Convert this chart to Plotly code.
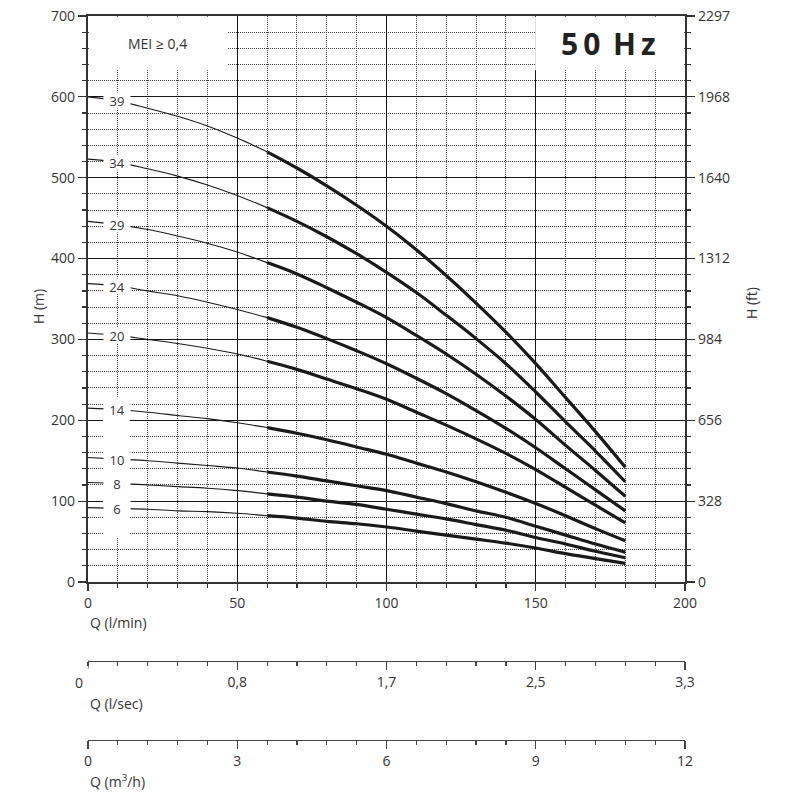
import plotly.graph_objects as go

# ---------------- data ----------------
Q_LMIN = [0, 10, 20, 30, 40, 50, 60, 70, 80, 90, 100, 110, 120, 130, 140, 150, 160, 170, 180]

H_39 = [600, 595, 586, 576, 564, 549, 532, 512, 490, 466, 440, 411, 379, 345, 309, 270, 228, 186, 142]
H_34 = [523, 519, 511, 502, 491, 478, 463, 446, 427, 406, 383, 358, 330, 301, 270, 235, 198, 162, 124]
H_29 = [446, 442, 436, 428, 419, 408, 395, 381, 364, 346, 327, 305, 282, 257, 230, 201, 169, 138, 106]
H_24 = [369, 366, 360, 354, 346, 337, 327, 315, 301, 286, 270, 252, 233, 212, 190, 166, 140, 114, 88]
H_20 = [308, 305, 300, 295, 289, 282, 273, 263, 251, 239, 226, 210, 194, 177, 159, 139, 117, 95, 73]
H_14 = [215, 213, 210, 206, 202, 197, 191, 184, 176, 167, 158, 147, 136, 124, 111, 97, 82, 66, 51]
H_10 = [154, 152, 150, 147, 144, 141, 136, 131, 125, 119, 113, 105, 97, 88, 80, 69, 58, 47, 37]
H_8 = [123, 122, 120, 118, 116, 113, 109, 105, 100, 96, 90, 84, 78, 71, 64, 55, 47, 38, 30]
H_6 = [92, 91, 90, 88, 87, 85, 82, 79, 75, 72, 68, 63, 58, 53, 48, 42, 35, 29, 23]

STAGES = ["39", "34", "29", "24", "20", "14", "10", "8", "6"]
CURVES = [H_39, H_34, H_29, H_24, H_20, H_14, H_10, H_8, H_6]

H_TICKS_M = [0, 100, 200, 300, 400, 500, 600, 700]
H_TICKS_FT = ["0", "328", "656", "984", "1312", "1640", "1968", "2297"]
Q_TICKS_LMIN = [0, 50, 100, 150, 200]
Q_TICKS_LSEC_POS = [50, 100, 150, 200]
Q_TICKS_LSEC = ["0,8", "1,7", "2,5", "3,3"]
Q_TICKS_M3H = ["0", "3", "6", "9", "12"]

THICK_FROM = 60      # l/min where the bold (operating) part starts
LABEL_Q = 10         # l/min where the stage labels sit

# ---------------- geometry (page body margin removed, figure fills 800x800) ----------------
W = H = 800
ML, MR, MT, MB = 88, 115, 16, 20
PH = H - MT - MB          # paper height in px


def py(ref_y):
    """reference-image y pixel -> paper fraction"""
    return (H - MB - ref_y) / PH


def px(ref_x):
    return (ref_x - ML) / (W - ML - MR)


FONT = "Open Sans"
TXT = "#333333"
LINE = "#1a1a1a"
MAJOR_GRID = "#151515"

fig = go.Figure()

i_thick = Q_LMIN.index(THICK_FROM)
for name, h in zip(STAGES, CURVES):
    fig.add_trace(go.Scatter(x=Q_LMIN[:i_thick + 1], y=h[:i_thick + 1], mode="lines",
                             line=dict(color=LINE, width=1.1, shape="spline"),
                             showlegend=False, hoverinfo="skip"))
    fig.add_trace(go.Scatter(x=Q_LMIN[i_thick:], y=h[i_thick:], mode="lines",
                             line=dict(color=LINE, width=3.2, shape="spline"),
                             showlegend=False, hoverinfo="skip"))

# carrier traces so the extra axes exist
fig.add_trace(go.Scatter(x=[0, 200], y=[None, None], xaxis="x2", yaxis="y",
                         showlegend=False, hoverinfo="skip"))
fig.add_trace(go.Scatter(x=[0, 200], y=[None, None], xaxis="x3", yaxis="y",
                         showlegend=False, hoverinfo="skip"))
fig.add_trace(go.Scatter(x=[None, None], y=[0, 700], xaxis="x", yaxis="y2",
                         showlegend=False, hoverinfo="skip"))

tickfont = dict(family=FONT, size=14, color=TXT)
minor_grid = dict(showgrid=True, gridcolor="#3a3a3a", gridwidth=1, griddash="1px,1px")

POS_LSEC = py(660.5)
POS_M3H = py(739.5)

fig.update_layout(
    width=W, height=H,
    margin=dict(l=ML, r=MR, t=MT, b=MB, autoexpand=False),
    paper_bgcolor="white", plot_bgcolor="white",
    font=dict(family=FONT, size=14, color=TXT),
    hovermode=False, dragmode=False,
    xaxis=dict(range=[0, 200], tickvals=Q_TICKS_LMIN, tickfont=tickfont, automargin=False,
               ticklabeloverflow="allow",
               showgrid=True, gridcolor=MAJOR_GRID, gridwidth=1,
               ticks="outside", ticklen=7, tickcolor="#333", tickwidth=1.2,
               minor=dict(dtick=10, tick0=0, ticks="outside", ticklen=4, tickcolor="#333", **minor_grid),
               showline=True, linecolor="#333", linewidth=2, mirror=True,
               zeroline=False, anchor="y", fixedrange=True),
    xaxis2=dict(range=[0, 200], overlaying="x", anchor="free", position=POS_LSEC, automargin=False,
                ticklabeloverflow="allow",
                tickvals=Q_TICKS_LSEC_POS, ticktext=Q_TICKS_LSEC, tickfont=tickfont,
                showgrid=False, ticks="outside", ticklen=8, tickcolor="#444", tickwidth=1.2,
                minor=dict(dtick=10, tick0=0, ticks="outside", ticklen=4, tickcolor="#444", showgrid=False),
                showline=True, linecolor="#444", linewidth=1.5, zeroline=False, side="bottom"),
    xaxis3=dict(range=[0, 200], overlaying="x", anchor="free", position=POS_M3H, automargin=False,
                ticklabeloverflow="allow",
                tickvals=Q_TICKS_LMIN, ticktext=Q_TICKS_M3H, tickfont=tickfont,
                showgrid=False, ticks="outside", ticklen=8, tickcolor="#444", tickwidth=1.2,
                minor=dict(dtick=10, tick0=0, ticks="outside", ticklen=4, tickcolor="#444", showgrid=False),
                showline=True, linecolor="#444", linewidth=1.5, zeroline=False, side="bottom"),
    yaxis=dict(range=[0, 700], domain=[py(582), 1], tickvals=H_TICKS_M, tickfont=tickfont, automargin=False,
               ticklabeloverflow="allow",
               showgrid=True, gridcolor=MAJOR_GRID, gridwidth=1,
               ticks="outside", ticklen=8, tickcolor="#333", tickwidth=1.2,
               minor=dict(dtick=20, tick0=0, ticks="outside", ticklen=4, tickcolor="#333", **minor_grid),
               showline=True, linecolor="#333", linewidth=2.2,
               zeroline=False, fixedrange=True),
    yaxis2=dict(range=[0, 700], overlaying="y", side="right", anchor="x", automargin=False,
                ticklabeloverflow="allow",
                tickvals=H_TICKS_M, ticktext=H_TICKS_FT, tickfont=tickfont,
                showgrid=False, ticks="outside", ticklen=8, tickcolor="#333", tickwidth=1.2,
                minor=dict(dtick=20, tick0=0, ticks="outside", ticklen=4, tickcolor="#333", showgrid=False),
                showline=True, linecolor="#333", linewidth=2.2, zeroline=False),
)

# long end tick at the start of the l/sec scale
fig.add_shape(type="line", xref="x", yref="paper", x0=0, x1=0, y0=POS_LSEC, y1=POS_LSEC - 8 / PH,
              line=dict(color="#444", width=1.2))

# white boxes in the top corners
fig.add_shape(type="rect", xref="x", yref="y", x0=0.3, x1=46.6, y0=633, y1=699,
              fillcolor="white", line=dict(width=0), layer="between")
fig.add_shape(type="rect", xref="x", yref="y", x0=149.8, x1=199.7, y0=633, y1=699,
              fillcolor="white", line=dict(width=0), layer="between")
# white strip behind the lower stage labels
fig.add_shape(type="rect", xref="x", yref="y", x0=5, x1=14, y0=56, y1=229,
              fillcolor="white", line=dict(width=0), layer="between")

fig.add_annotation(xref="x", yref="y", x=23.3, y=666, text="MEI \u2265 0,4", showarrow=False,
                   font=dict(family=FONT, size=14, color=TXT))
fig.add_annotation(xref="x", yref="y", x=174.5, y=666, text="<b>5\u20090 \u2009H\u2009z</b>", showarrow=False,
                   font=dict(family=FONT, size=30, color="#222"))

# stage labels
i_lab = Q_LMIN.index(LABEL_Q)
for name, h in zip(STAGES, CURVES):
    fig.add_annotation(xref="x", yref="y", x=9.6, y=h[i_lab], text=name, showarrow=False,
                       font=dict(family=FONT, size=13, color=TXT),
                       bgcolor="white", width=26, height=15, borderpad=0)

# axis titles
fig.add_annotation(xref="paper", yref="paper", x=px(38), y=py(306), xanchor="center", yanchor="middle",
                   text="H (m)", textangle=-90, showarrow=False, font=dict(family=FONT, size=14, color=TXT))
fig.add_annotation(xref="paper", yref="paper", x=px(751), y=py(303), xanchor="center", yanchor="middle",
                   text="H (ft)", textangle=-90, showarrow=False, font=dict(family=FONT, size=14, color=TXT))
for txt, ypix in [("Q (l/min)", 622), ("Q (l/sec)", 703), ("Q (m<sup>3</sup>/h)", 781)]:
    fig.add_annotation(xref="paper", yref="paper", x=0, xanchor="left", y=py(ypix), yanchor="middle",
                       text=txt, showarrow=False, font=dict(family=FONT, size=14, color=TXT))
# shifted zero of the l/sec scale
fig.add_annotation(xref="paper", yref="paper", x=px(79), y=py(682), xanchor="center", yanchor="middle",
                   text="0", showarrow=False, font=dict(family=FONT, size=14, color=TXT))

fig.write_html("out.html", config={"displayModeBar": False, "staticPlot": True},
               post_script="document.body.style.margin='0px';")
